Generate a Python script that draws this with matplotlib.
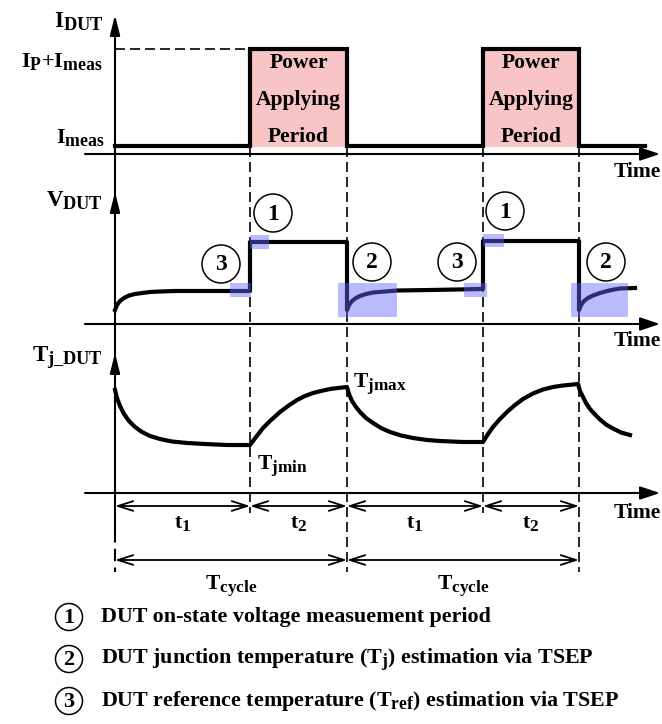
import matplotlib
matplotlib.use('Agg')
import matplotlib.pyplot as plt
import matplotlib._mathtext as mathtext_core
from matplotlib.patches import Rectangle, Circle

# subscripts in the original are close to full size
mathtext_core.SHRINK_FACTOR = 0.8

plt.rcParams['font.family'] = ['Liberation Serif', 'DejaVu Serif']
plt.rcParams['font.weight'] = 'bold'
plt.rcParams['mathtext.fontset'] = 'custom'
plt.rcParams['mathtext.rm'] = 'Liberation Serif:bold'
plt.rcParams['mathtext.it'] = 'Liberation Serif:bold'
plt.rcParams['mathtext.bf'] = 'Liberation Serif:bold'

# diagram drawn in pixel units (x = time, y grows downward)
edges = [115, 250, 347, 483, 579]          # cycle boundaries
axis_y = [154, 324, 493]                   # time axes of the three panels
axis_top = [15, 192, 353]                  # arrow tips of the y axes
ylabels = [r'I$_{\mathrm{DUT}}$', r'V$_{\mathrm{DUT}}$', r'T$_{\mathrm{j\_DUT}}$']
ylabel_y = [22, 201, 358]

# I_DUT
i_time = [115, 250, 250, 347, 347, 483, 483, 579, 579, 645]
i_level = [146, 146, 49, 49, 146, 146, 49, 49, 146, 146]

# V_DUT
v_time = [115, 117, 120, 124, 129, 135, 142, 150, 160, 175, 200, 250, 250, 347,
          347, 349, 352, 356, 360, 366, 373, 385, 397, 430, 483, 483, 579,
          579, 581, 584, 588, 593, 600, 607, 614, 620, 635]
v_level = [310, 305, 301, 298, 295.5, 294, 293, 292, 291.5, 291, 291, 291, 242, 242,
           310, 305, 301, 298, 296, 294, 292.5, 291.5, 290.5, 290, 289, 241, 241,
           310, 305, 301, 298, 295.5, 293, 291, 289.5, 288.5, 288]

# Tj_DUT
t_time = [115, 117, 120, 124, 129, 135, 142, 150, 160, 172, 187, 205, 227, 250,
          256, 263, 270, 280, 288, 297, 305, 313, 321, 330, 338, 347,
          349, 352, 356, 360, 366, 373, 381, 390, 401, 413, 427, 440, 463, 483,
          488, 493, 500, 507, 515, 523, 533, 543, 553, 563, 578,
          580, 583, 586, 590, 595, 600, 606, 613, 621, 630]
t_level = [390, 398, 406, 414, 421, 427, 432, 436, 439, 441.5, 443, 444, 445, 445,
           437, 428, 421, 412, 406, 400, 396, 393, 391, 389, 388, 387,
           394, 401, 407, 412, 418, 423, 428, 432, 435.5, 438, 440, 441, 442, 442,
           434, 427, 419, 412, 405, 399, 393.5, 389.5, 387, 385.5, 384,
           391, 397, 403, 409, 414.5, 419.5, 424.5, 428.5, 432.5, 435]

# measurement windows (x0, x1, y0, y1) and their markers
windows = [(230, 251, 283, 297), (250, 269, 235, 249), (338, 397, 283, 317),
           (464, 487, 283, 297), (483, 504, 234, 247), (571, 628, 283, 317)]
markers = ['1', '3', '2', '3', '1', '2']
marker_x = [273, 221, 372, 457, 505, 606]
marker_y = [213, 264, 262, 262, 211, 262]

legend_items = ['DUT on-state voltage measuement period',
                r'DUT junction temperature (T$_{\mathrm{j}}$) estimation via TSEP',
                r'DUT reference temperature (T$_{\mathrm{ref}}$) estimation via TSEP']
legend_y = [617, 659, 701]

fig = plt.figure(figsize=(6.62, 7.24), dpi=100)
ax = fig.add_axes([0, 0, 1, 1])
ax.set_xlim(0, 662)
ax.set_ylim(724, 0)
ax.axis('off')

fs = 15.5

# power applying boxes
for x0, x1 in [(edges[1], edges[2]), (edges[3], edges[4])]:
    ax.add_patch(Rectangle((x0, 49), x1 - x0, 98, facecolor='#F8C4C6', edgecolor='none', zorder=1))
    xc = (x0 + x1) / 2
    for txt, yy in zip(['Power', 'Applying', 'Period'], [63, 100, 137]):
        ax.text(xc, yy, txt, ha='center', va='center', fontsize=fs, zorder=3)

# dashed guides
for k, x in enumerate(edges[1:]):
    bottom = 513 if k % 2 == 0 else 572
    ax.plot([x, x], [147, bottom], color='k', lw=1.2, ls=(0, (6, 3)), zorder=2)
ax.plot([edges[0], edges[1]], [49, 49], color='k', lw=1.2, ls=(0, (6, 3)), zorder=2)

# y axis
ax.plot([edges[0], edges[0]], [axis_top[0] + 5, 530], color='k', lw=1.5, zorder=2)
ax.plot([edges[0], edges[0]], [530, 572], color='k', lw=1.5, ls=(0, (6, 3)), zorder=2)
for yt, lab, ly in zip(axis_top, ylabels, ylabel_y):
    ax.annotate('', xy=(edges[0], yt), xytext=(edges[0], yt + 20),
                arrowprops=dict(arrowstyle='-|>,head_length=1.2,head_width=0.3', color='k',
                                lw=1.5, shrinkA=0, shrinkB=0, mutation_scale=10))
    ax.text(103, ly, lab, ha='right', va='center', fontsize=16.5)

# time axes
for yy, ty in zip(axis_y, [172, 341, 513]):
    ax.annotate('', xy=(660, yy), xytext=(85, yy),
                arrowprops=dict(arrowstyle='-|>,head_length=1.2,head_width=0.4', color='k',
                                lw=1.5, shrinkA=0, shrinkB=0, mutation_scale=10))
    ax.text(614, ty, 'Time', ha='left', va='center', fontsize=fs)

ax.text(103, 62, r'I$_{\mathrm{P}}$+I$_{\mathrm{meas}}$', ha='right', va='center', fontsize=16)
ax.text(105, 137, r'I$_{\mathrm{meas}}$', ha='right', va='center', fontsize=16)

# waveforms
ax.plot(i_time, i_level, color='k', lw=3, solid_joinstyle='miter', zorder=4)
ax.plot(v_time, v_level, color='k', lw=3, solid_joinstyle='round', zorder=4)
ax.plot(t_time, t_level, color='k', lw=3, solid_joinstyle='round', zorder=4)

ax.text(257, 465, r'T$_{\mathrm{jmin}}$', ha='left', va='center', fontsize=fs)
ax.text(353, 383, r'T$_{\mathrm{jmax}}$', ha='left', va='center', fontsize=fs)

# windows and markers
for x0, x1, y0, y1 in windows:
    ax.add_patch(Rectangle((x0, y0), x1 - x0, y1 - y0, facecolor=(0.4, 0.4, 1.0),
                           alpha=0.45, edgecolor='none', zorder=5))
for m, mx, my in zip(markers, marker_x, marker_y):
    ax.add_patch(Circle((mx, my), 19, facecolor='none', edgecolor='k', lw=1.1, zorder=5))
    ax.text(mx, my + 1, m, ha='center', va='center', fontsize=17, zorder=6)

# period dimensions
for a, b, lab in zip(edges[:-1], edges[1:], [r't$_{\mathrm{1}}$', r't$_{\mathrm{2}}$'] * 2):
    ax.annotate('', xy=(b, 506), xytext=(a, 506),
                arrowprops=dict(arrowstyle='<->,head_length=1.1,head_width=0.35', color='k',
                                lw=1.3, shrinkA=0, shrinkB=0, mutation_scale=10))
    ax.text((a + b) / 2, 523, lab, ha='center', va='center', fontsize=fs)
for a, b in [(edges[0], edges[2]), (edges[2], edges[4])]:
    ax.annotate('', xy=(b, 560), xytext=(a, 560),
                arrowprops=dict(arrowstyle='<->,head_length=1.1,head_width=0.35', color='k',
                                lw=1.3, shrinkA=0, shrinkB=0, mutation_scale=10))
    ax.text((a + b) / 2, 585, r'T$_{\mathrm{cycle}}$', ha='center', va='center', fontsize=fs)

# legend
for k, (txt, ly) in enumerate(zip(legend_items, legend_y)):
    ax.add_patch(Circle((69, ly), 13.5, facecolor='none', edgecolor='k', lw=1.1))
    ax.text(69, ly + 1, str(k + 1), ha='center', va='center', fontsize=16)
    ax.text(101, ly, txt, ha='left', va='center', fontsize=15.8)

fig.savefig('out.png', dpi=100)
